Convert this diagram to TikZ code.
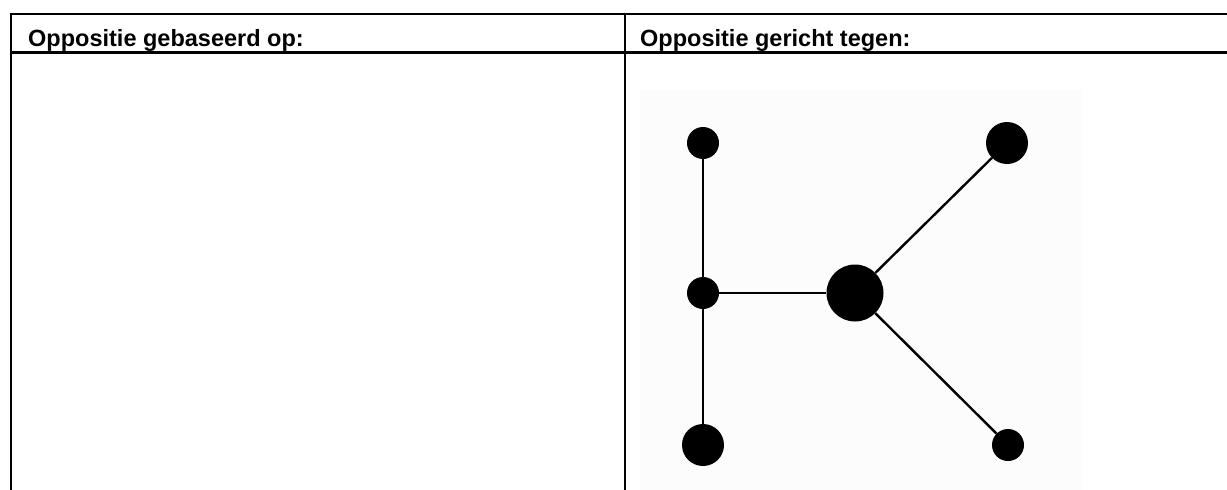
\documentclass[tikz,border=0pt]{standalone}
\usepackage{fontspec}
\setmainfont{Liberation Sans}
\begin{document}
\begin{tikzpicture}[x=1pt,y=-1pt,
  rule/.style={line width=2.6pt, line cap=rect},
  head/.style={anchor=base west, inner sep=0pt, font=\fontsize{23.5}{27}\selectfont\bfseries},
  dot/.style={circle, fill=black, inner sep=0pt, minimum size=#1},
  edge/.style={line width=2.4pt}]
  \useasboundingbox (0,0) rectangle (1227,490);
  % pale backdrop of the network figure
  \fill[black!1!white] (640,90) rectangle (1082,490);
  % table rules
  \draw[rule] (11,490) -- (11,14) -- (1230,14);
  \draw[rule] (11,52.5) -- (1230,52.5);
  \draw[rule] (625,14) -- (625,490);
  % column headings
  \node[head] (h1) at (28,46) {Oppositie gebaseerd op:};
  \node[head] (h2) at (640,46) {Oppositie gericht tegen:};
  % network
  \node[dot=32pt] (tl) at (703,143) {};
  \node[dot=32pt] (ml) at (703,293) {};
  \node[dot=42pt] (bl) at (703,445) {};
  \node[dot=57pt] (c)  at (855,293) {};
  \node[dot=42pt] (tr) at (1007,143) {};
  \node[dot=32pt] (br) at (1008,445) {};
  \draw[edge] (tl) -- (ml);
  \draw[edge] (ml) -- (bl);
  \draw[edge] (ml) -- (c);
  \draw[edge] (c) -- (tr);
  \draw[edge] (c) -- (br);
\end{tikzpicture}
\end{document}
